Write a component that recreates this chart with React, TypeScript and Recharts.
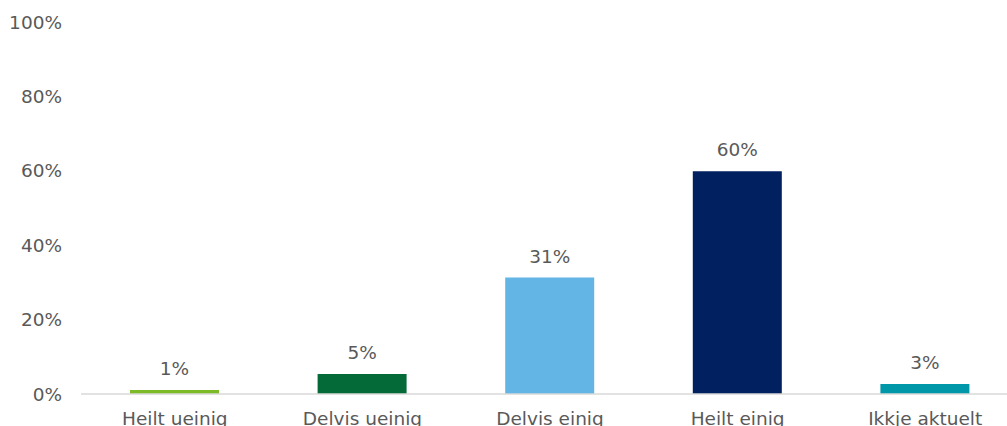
import { BarChart, Bar, XAxis, YAxis, Cell, LabelList } from 'recharts';

const categories = ['Heilt ueinig', 'Delvis ueinig', 'Delvis einig', 'Heilt einig', 'Ikkje aktuelt'];
const shares = [0.011, 0.054, 0.313, 0.599, 0.027];
const colors = ['#7DBA28', '#046A38', '#62B5E5', '#00205F', '#0097A9'];
const yTicks = [0, 0.2, 0.4, 0.6, 0.8, 1];

const data = categories.map((name, i) => ({ name, value: shares[i] }));

const pct = (v: any) => `${Math.round(Number(v) * 100)}%`;
const font = { fontFamily: 'DejaVu Sans, Verdana, sans-serif', fontSize: 18.5, fill: '#595959' };

export default function App() {
  return (
    <div style={{ position: 'absolute', left: 0, top: 0, width: 1007, height: 426, overflow: 'hidden', background: '#fff' }}>
      <BarChart width={1019} height={440} data={data} margin={{ top: 22, right: 0, left: 0, bottom: 0 }}>
        <XAxis
          dataKey="name"
          height={46}
          tickLine={false}
          tickSize={0}
          tickMargin={18}
          axisLine={{ stroke: '#d9d9d9', strokeWidth: 1.5 }}
          tick={font}
          interval={0}
        />
        <YAxis
          width={81}
          domain={[0, 1]}
          ticks={yTicks}
          tickFormatter={pct}
          axisLine={false}
          tickLine={false}
          tickSize={0}
          tickMargin={19}
          tick={font}
        />
        <Bar dataKey="value" barSize={89} isAnimationActive={false}>
          {data.map((d, i) => (
            <Cell key={d.name} fill={colors[i]} />
          ))}
          <LabelList dataKey="value" position="top" offset={15} formatter={pct} style={font} />
        </Bar>
      </BarChart>
    </div>
  );
}
